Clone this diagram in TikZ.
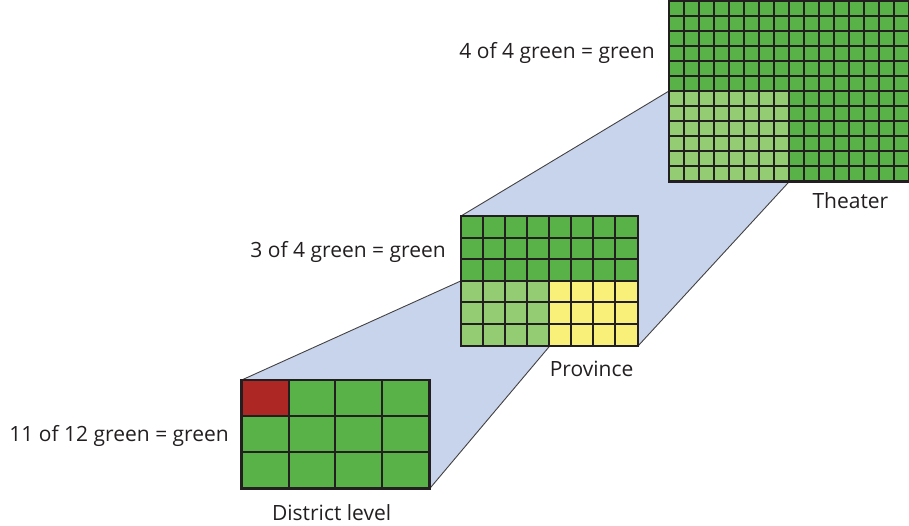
\documentclass[tikz,border=0pt]{standalone}
\usepackage{fontspec}
\setmainfont{Open Sans}
\usepackage{xcolor}
\usepackage{tikz}
\usetikzlibrary{positioning,calc,backgrounds}
\definecolor{DarkGrn}{RGB}{88,178,72}
\definecolor{LightGrn}{RGB}{148,204,116}
\definecolor{SoftYel}{RGB}{248,240,120}
\definecolor{BadRed}{RGB}{173,40,36}
\definecolor{ProjBlue}{RGB}{200,212,236}
\definecolor{Ink}{RGB}{35,31,32}
\tikzset{
  level/.style={rectangle,draw=none,fill=DarkGrn,inner sep=0pt,anchor=north west},
  patch/.style={rectangle,draw=none,inner sep=0pt},
  cellline/.style={draw=Ink,line width=2pt},
  frame/.style={draw=Ink,line width=2.6pt},
  projline/.style={draw=Ink!85,line width=0.9pt},
  lbl/.style={font=\fontsize{21}{25}\selectfont,text=Ink,inner sep=0pt},
}
% #1 node, #2 cols, #3 rows, #4 cell width, #5 cell height
\newcommand{\gridlines}[5]{%
  \foreach \gx in {1,...,#2}
    \draw[cellline] ($(#1.north west)+(\gx*#4,0)$) -- ++(0,#3*#5);
  \foreach \gy in {1,...,#3}
    \draw[cellline] ($(#1.north west)+(0,\gy*#5)$) -- ++(#2*#4,0);
  \draw[frame] (#1.north west) rectangle (#1.south east);
}

\begin{document}
\begin{tikzpicture}[x=1pt,y=-1pt]
  \useasboundingbox (0,0) rectangle (909,525);
  \clip (0,0) rectangle (909,525);

  % district level
  \node[level,minimum width=187.5pt,minimum height=108.3pt] (dist) at (241.7,380) {};
  \fill[BadRed] (dist.north west) rectangle ++(46.9,36.1);
  \gridlines{dist}{4}{3}{46.875}{36.1}

  % province
  \node[level,minimum width=176.5pt,minimum height=129.7pt] (prov) at (461,216) {};
  \node[patch,fill=LightGrn,minimum width=88.25pt,minimum height=64.85pt,
        anchor=south west] (plight) at (prov.south west) {};
  \node[patch,fill=SoftYel,minimum width=88.25pt,minimum height=64.85pt,
        anchor=south east] (pyel) at (prov.south east) {};
  \gridlines{prov}{8}{6}{22.0625}{21.62}

  % theater
  \node[level,minimum width=240pt,minimum height=180pt] (thr) at (669,1) {};
  \node[patch,fill=LightGrn,minimum width=120pt,minimum height=90pt,
        anchor=south west] (tlight) at (thr.south west) {};
  \begin{scope}[cellline/.append style={line width=2.4pt}]
    \gridlines{thr}{16}{12}{15}{15}
  \end{scope}
  \coordinate (tq) at ($(tlight.south east)!.5!(thr.south east)$);

  % projections
  \begin{scope}[on background layer]
    \fill[ProjBlue] (dist.north west) -- (plight.north west) -- (plight.south east)
      -- (dist.south east) -- cycle;
    \fill[ProjBlue] (prov.north west) -- (tlight.north west) -- (tlight.south east)
      -- (prov.south east) -- cycle;
    \draw[projline] (dist.north west) -- (plight.north west);
    \draw[projline] (dist.south east) -- (plight.south east);
    \draw[projline] (prov.north west) -- (tlight.north west);
    \draw[projline] (prov.south east) -- (tlight.south east);
  \end{scope}

  % labels
  \node[lbl,anchor=base east] (dsum) at ($(dist.north west)+(-12.7,61.7)$) {11 of 12 green = green};
  \node[lbl,anchor=base east] (psum) at ($(prov.north west)+(-15,41.7)$) {3 of 4 green = green};
  \node[lbl,anchor=base east] (tsum) at ($(thr.north west)+(-14,57.3)$) {4 of 4 green = green};
  \node[lbl,below=15.5pt of dist,xshift=-4pt] (dname) {District level};
  \node[lbl,below=15pt of pyel,xshift=-2pt] (pname) {Province};
  \node[lbl,below=11pt of tq,xshift=1pt] (tname) {Theater};
\end{tikzpicture}
\end{document}
